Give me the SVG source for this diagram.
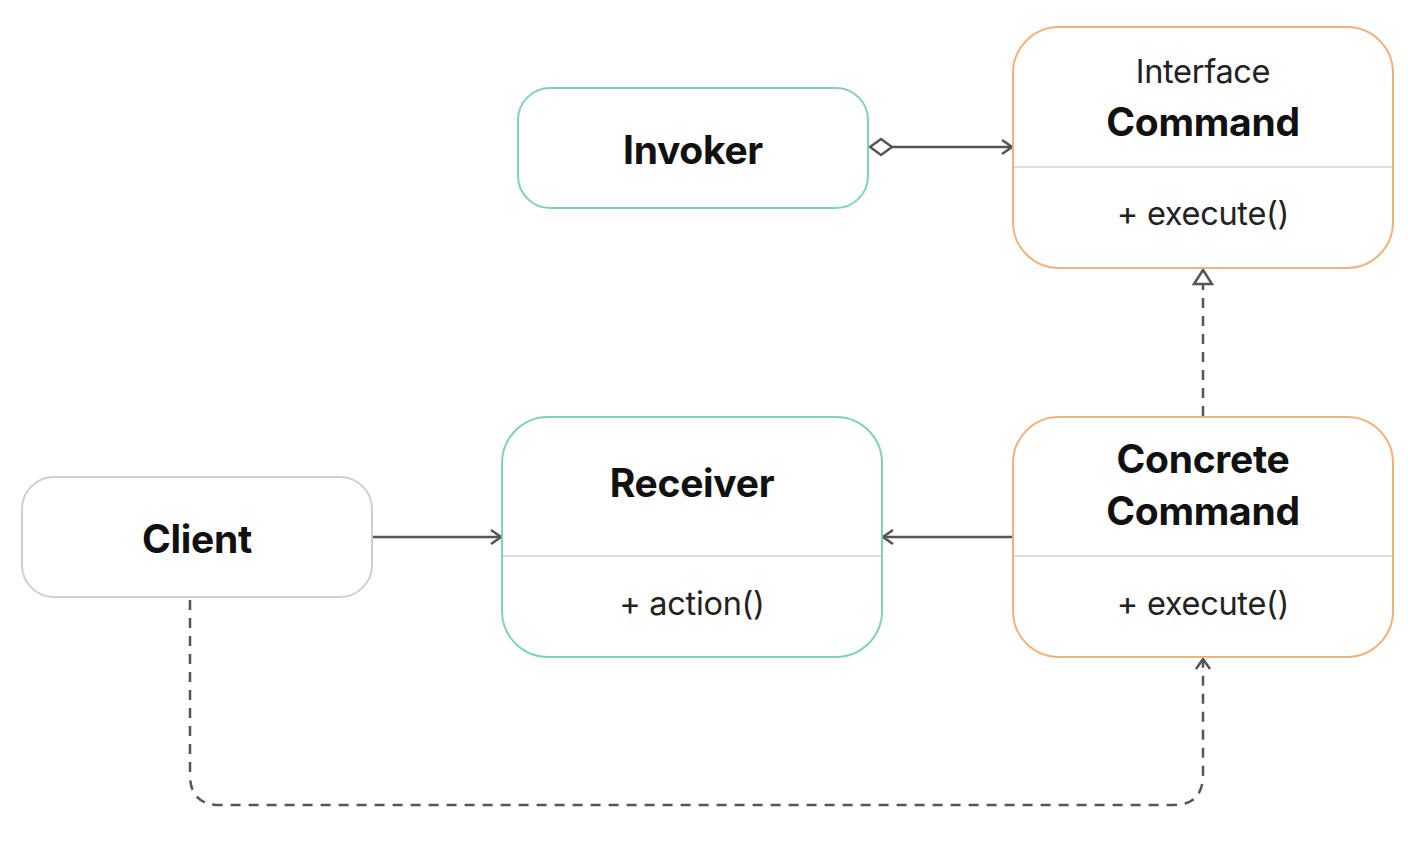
<svg xmlns="http://www.w3.org/2000/svg" width="1426" height="848" viewBox="0 0 1426 848">
<style>
.box{fill:#fff;stroke-width:2}
.green{stroke:#7fd3b2}
.orange{stroke:#f0b27c}
.gray{stroke:#cfcfcf}
.div{stroke:#dddddd;stroke-width:2}
.t{font-family:Inter,"Liberation Sans",sans-serif;fill:#111;text-anchor:middle}
.b{font-weight:700;font-size:39px;letter-spacing:-0.3px}
.r{font-size:32.5px;fill:#222;letter-spacing:-0.3px}
.ln{fill:none;stroke:#555;stroke-width:2.5}
.dash{stroke-dasharray:10 8}
</style>
<defs>
<marker id="open" viewBox="0 0 20 20" refX="18" refY="10" markerWidth="20" markerHeight="20" markerUnits="userSpaceOnUse" orient="auto">
<path d="M8 3 L18 10 L8 17" fill="none" stroke="#555" stroke-width="2.5"/>
</marker>
<marker id="tri" viewBox="0 0 24 24" refX="22" refY="12" markerWidth="24" markerHeight="24" markerUnits="userSpaceOnUse" orient="auto">
<path d="M22 12 L8 3 L8 21 Z" fill="#fff" stroke="#555" stroke-width="2.5"/>
</marker>
<marker id="dia" viewBox="0 0 28 20" refX="2" refY="10" markerWidth="28" markerHeight="20" markerUnits="userSpaceOnUse" orient="auto">
<path d="M2 10 L13 2 L24 10 L13 18 Z" fill="#fff" stroke="#555" stroke-width="2.5"/>
</marker>
</defs>
<g id="connectors">
<path class="ln" d="M870 147 H1012" marker-start="url(#dia)" marker-end="url(#open)"/>
<path class="ln" d="M372 537 H501" marker-end="url(#open)"/>
<path class="ln" d="M1013 537 H883" marker-end="url(#open)"/>
<path class="ln dash" d="M1203 416 V270" marker-end="url(#tri)"/>
<path class="ln dash" d="M190 600 V775 Q190 805 220 805 H1173 Q1203 805 1203 775 V659" marker-end="url(#open)"/>
</g>
<g id="invoker">
<rect class="box green" x="518" y="88" width="350" height="120" rx="32"/>
<text class="t b" x="693" y="164">Invoker</text>
</g>
<g id="command">
<rect class="box orange" x="1013" y="27" width="380" height="241" rx="46"/>
<line class="div" x1="1014" y1="167" x2="1392" y2="167"/>
<text class="t r" x="1203" y="83">Interface</text>
<text class="t b" x="1203" y="136">Command</text>
<text class="t r" x="1203" y="225">+ execute()</text>
</g>
<g id="concrete-command">
<rect class="box orange" x="1013" y="417" width="380" height="240" rx="46"/>
<line class="div" x1="1014" y1="556" x2="1392" y2="556"/>
<text class="t b" x="1203" y="473">Concrete</text>
<text class="t b" x="1203" y="525">Command</text>
<text class="t r" x="1203" y="615">+ execute()</text>
</g>
<g id="receiver">
<rect class="box green" x="502" y="417" width="380" height="240" rx="46"/>
<line class="div" x1="503" y1="556" x2="881" y2="556"/>
<text class="t b" x="692" y="497">Receiver</text>
<text class="t r" x="692" y="615">+ action()</text>
</g>
<g id="client">
<rect class="box gray" x="22" y="477" width="350" height="120" rx="32"/>
<text class="t b" x="197" y="553">Client</text>
</g>
</svg>
